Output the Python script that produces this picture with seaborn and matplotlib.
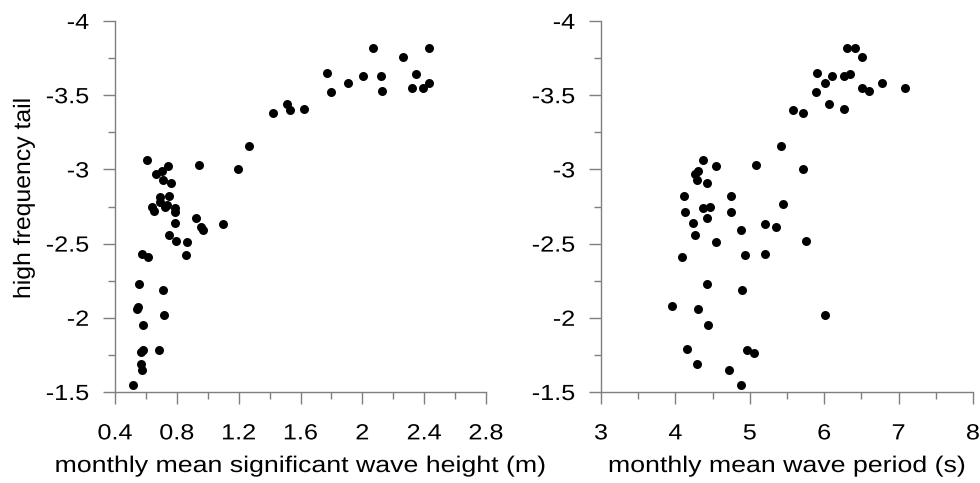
import matplotlib
matplotlib.use("Agg")
import matplotlib.pyplot as plt
import seaborn as sns
import pandas as pd
from matplotlib.ticker import MultipleLocator
from matplotlib.patheffects import AbstractPathEffect
from matplotlib.transforms import Affine2D

# Monthly means: significant wave height (m) vs high-frequency tail exponent
hs = [2.067, 2.433, 2.26, 1.77, 2.347, 2.006, 2.12, 1.909, 2.429, 2.321, 2.39,
      1.797, 2.125, 1.513, 1.532, 1.622, 1.424, 1.269, 1.194, 0.941, 0.605,
      0.745, 0.665, 0.704, 0.708, 0.764, 0.691, 0.749, 0.691, 0.639, 0.654,
      0.721, 0.734, 0.79, 0.788, 0.924, 0.956, 0.967, 1.10, 0.788, 0.749,
      0.795, 0.868, 0.857, 0.572, 0.616, 0.558, 0.713, 0.551, 0.54, 0.715,
      0.581, 0.566, 0.583, 0.687, 0.566, 0.577, 0.519]
tail_hs = [-3.82, -3.82, -3.76, -3.65, -3.64, -3.63, -3.63, -3.58, -3.58, -3.55,
           -3.55, -3.52, -3.53, -3.44, -3.40, -3.41, -3.38, -3.16, -3.00, -3.03,
           -3.06, -3.02, -2.97, -2.99, -2.93, -2.91, -2.816, -2.82, -2.78, -2.75,
           -2.72, -2.75, -2.76, -2.74, -2.71, -2.67, -2.61, -2.59, -2.63, -2.64,
           -2.56, -2.52, -2.51, -2.42, -2.43, -2.41, -2.23, -2.19, -2.07, -2.06,
           -2.02, -1.95, -1.77, -1.78, -1.78, -1.69, -1.65, -1.55]

# Monthly means: wave period (s) vs high-frequency tail exponent
tp = [6.31, 6.41, 6.51, 5.90, 6.11, 6.26, 6.35, 6.01, 6.78, 6.51, 6.60, 7.08,
      5.89, 6.06, 6.26, 5.58, 5.72, 5.42, 5.72, 5.09, 4.37, 4.54, 4.27, 4.30,
      4.29, 4.42, 4.12, 4.75, 5.45, 4.13, 4.37, 4.46, 4.75, 4.23, 4.42, 5.20,
      5.35, 4.27, 4.88, 4.54, 5.76, 4.09, 4.93, 5.20, 4.42, 4.90, 3.95, 4.31,
      6.01, 4.44, 4.16, 4.96, 5.05, 4.29, 4.72, 4.88]
tail_tp = [-3.82, -3.82, -3.76, -3.65, -3.63, -3.63, -3.64, -3.58, -3.58, -3.55,
           -3.53, -3.55, -3.52, -3.44, -3.41, -3.40, -3.38, -3.16, -3.00, -3.03,
           -3.06, -3.02, -2.97, -2.99, -2.93, -2.91, -2.82, -2.82, -2.77, -2.715,
           -2.74, -2.75, -2.71, -2.64, -2.67, -2.63, -2.61, -2.56, -2.59, -2.51,
           -2.52, -2.41, -2.42, -2.43, -2.23, -2.19, -2.08, -2.06, -2.02, -1.95,
           -1.79, -1.78, -1.76, -1.69, -1.65, -1.55]

y_ticks = [-4, -3.5, -3, -2.5, -2, -1.5]
y_tick_labels = ["-4", "-3.5", "-3", "-2.5", "-2", "-1.5"]
hs_ticks = [0.4, 0.8, 1.2, 1.6, 2.0, 2.4, 2.8]
hs_tick_labels = ["0.4", "0.8", "1.2", "1.6", "2", "2.4", "2.8"]
tp_ticks = [3, 4, 5, 6, 7, 8]
tp_tick_labels = ["3", "4", "5", "6", "7", "8"]


class WideText(AbstractPathEffect):
    """Draw text glyphs widened along the reading direction."""

    def __init__(self, sx, anchor="center"):
        super().__init__()
        self.sx = sx
        self.anchor = anchor

    def draw_path(self, renderer, gc, tpath, affine, rgbFace=None):
        ext = tpath.get_extents()
        if self.anchor == "right":
            cx = ext.x1
        elif self.anchor == "left":
            cx = ext.x0
        else:
            cx = 0.5 * (ext.x0 + ext.x1)
        t = Affine2D().translate(-cx, 0).scale(self.sx, 1).translate(cx, 0) + affine
        renderer.draw_path(gc, tpath, t, rgbFace)


sns.set_style("ticks")
plt.rcParams["font.family"] = ["Liberation Sans", "DejaVu Sans"]

W, H = 980, 483
fig = plt.figure(figsize=(W / 100, H / 100), dpi=100)
ax_top, ax_bot = 21, 392
ax1 = fig.add_axes([115 / W, 1 - ax_bot / H, 371 / W, (ax_bot - ax_top) / H])
ax2 = fig.add_axes([601 / W, 1 - ax_bot / H, 372 / W, (ax_bot - ax_top) / H])

df1 = pd.DataFrame({"x": hs, "y": tail_hs})
df2 = pd.DataFrame({"x": tp, "y": tail_tp})

spine_col = "#7f7f7f"
tick_fs = 15.8
label_fs = 16.3

panels = [
    (ax1, df1, hs_ticks, hs_tick_labels, 0.2, (0.4, 2.8),
     "monthly mean significant wave height (m)"),
    (ax2, df2, tp_ticks, tp_tick_labels, 0.5, (3, 8),
     "monthly mean wave period (s)"),
]

for ax, df, ticks, labels, minor, xlim, xlabel in panels:
    sns.scatterplot(data=df, x="x", y="y", ax=ax, color="black",
                    s=42, marker="o", edgecolor="black", linewidth=0,
                    clip_on=False, zorder=3)
    ax.set_xlim(*xlim)
    ax.set_ylim(-1.5, -4)
    ax.set_xticks(ticks)
    ax.set_xticklabels(labels)
    ax.xaxis.set_minor_locator(MultipleLocator(minor))
    ax.set_yticks(y_ticks)
    ax.set_yticklabels(y_tick_labels)
    ax.yaxis.set_minor_locator(MultipleLocator(0.25))
    for side in ["top", "right"]:
        ax.spines[side].set_visible(False)
    for side in ["left", "bottom"]:
        ax.spines[side].set_color(spine_col)
        ax.spines[side].set_linewidth(1.0)
    ax.tick_params(which="major", length=8.6, width=1.0, color=spine_col,
                   labelsize=tick_fs, labelcolor="black", direction="out")
    ax.tick_params(which="minor", length=5.2, width=1.0, color=spine_col,
                   direction="out")
    ax.tick_params(axis="x", which="major", pad=14)
    ax.tick_params(axis="y", which="major", pad=10)
    ax.set_xlabel("")
    ax.set_ylabel("")
    for t in ax.get_xticklabels():
        t.set_path_effects([WideText(1.15, "center")])
    for t in ax.get_yticklabels():
        t.set_path_effects([WideText(1.15, "right")])

    pos = ax.get_position()
    fig.text(0.5 * (pos.x0 + pos.x1), 1 - 472 / H, xlabel, fontsize=label_fs,
             ha="center", va="baseline", color="black",
             path_effects=[WideText(1.18, "center")])

fig.text(24 / W, 1 - 198 / H, "high frequency tail", fontsize=17,
         rotation=90, ha="center", va="center", color="black",
         path_effects=[WideText(1.05, "center")])

fig.savefig("out.png", dpi=100, facecolor="white")
